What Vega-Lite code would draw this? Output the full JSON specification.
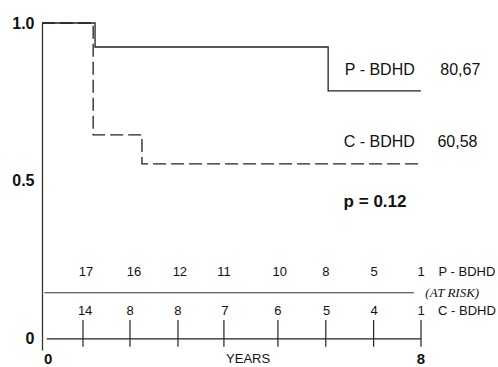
{
  "$schema": "https://vega.github.io/schema/vega-lite/v6.json",
  "width": 379,
  "height": 327,
  "autosize": {"type": "none"},
  "padding": {"left": 42, "top": 23, "right": 77, "bottom": 17},
  "background": "white",
  "config": {
    "view": {"stroke": null},
    "axis": {"grid": false},
    "text": {"font": "Liberation Sans", "color": "#111"}
  },
  "datasets": {
    "curves": [
      {"group": "P", "t": 0, "s": 1.0},
      {"group": "P", "t": 1.12, "s": 0.924},
      {"group": "P", "t": 6.04, "s": 0.785},
      {"group": "P", "t": 8.0, "s": 0.785},
      {"group": "C", "t": 0, "s": 1.0},
      {"group": "C", "t": 1.08, "s": 0.646},
      {"group": "C", "t": 2.11, "s": 0.554},
      {"group": "C", "t": 8.0, "s": 0.554}
    ],
    "ticks": [
      {"t": 0.865}, {"t": 1.857}, {"t": 2.87}, {"t": 3.84},
      {"t": 4.98}, {"t": 5.99}, {"t": 7.0}, {"t": 8.0}
    ],
    "risk": [
      {"group": "P", "t": 0.93, "n": 17},
      {"group": "P", "t": 1.94, "n": 16},
      {"group": "P", "t": 2.91, "n": 12},
      {"group": "P", "t": 3.84, "n": 11},
      {"group": "P", "t": 5.02, "n": 10},
      {"group": "P", "t": 5.99, "n": 8},
      {"group": "P", "t": 7.01, "n": 5},
      {"group": "P", "t": 8.0, "n": 1},
      {"group": "C", "t": 0.91, "n": 14},
      {"group": "C", "t": 1.86, "n": 8},
      {"group": "C", "t": 2.87, "n": 8},
      {"group": "C", "t": 3.86, "n": 7},
      {"group": "C", "t": 4.98, "n": 6},
      {"group": "C", "t": 6.01, "n": 5},
      {"group": "C", "t": 7.01, "n": 4},
      {"group": "C", "t": 8.0, "n": 1}
    ],
    "labels": [
      {"label": "P - BDHD", "t": 7.13, "s": 0.851},
      {"label": "80,67", "t": 8.83, "s": 0.851},
      {"label": "C - BDHD", "t": 7.12, "s": 0.623},
      {"label": "60,58", "t": 8.77, "s": 0.623}
    ],
    "pval": [{"label": "p = 0.12", "t": 7.03, "s": 0.434}],
    "risklabels": [
      {"label": "P - BDHD", "t": 8.97, "s": 0.211},
      {"label": "C - BDHD", "t": 8.97, "s": 0.087}
    ],
    "atrisk": [{"label": "(AT RISK)", "t": 8.66, "s": 0.146}],
    "xlabels": [
      {"label": "0", "t": 0.13, "size": "big"},
      {"label": "YEARS", "t": 4.35, "size": "small"},
      {"label": "8", "t": 8.0, "size": "big"}
    ]
  },
  "layer": [
    {
      "data": {"name": "curves"},
      "transform": [{"filter": "datum.group === 'P'"}],
      "mark": {"type": "line", "interpolate": "step-after", "color": "#222", "strokeWidth": 1.3},
      "encoding": {
        "x": {"field": "t", "type": "quantitative", "scale": {"domain": [0, 8], "nice": false, "zero": false}, "axis": null},
        "y": {
          "field": "s", "type": "quantitative",
          "scale": {"domain": [-0.035, 1], "nice": false, "zero": false},
          "axis": {
            "values": [0, 0.5, 1],
            "labelExpr": "datum.value == 1 ? '1.0' : (datum.value == 0.5 ? '0.5' : '0')",
            "ticks": false,
            "title": null,
            "domainColor": "#333",
            "domainWidth": 1.3,
            "labelFont": "Liberation Sans",
            "labelFontSize": 16,
            "labelFontWeight": "bold",
            "labelColor": "#111",
            "labelPadding": 8
          }
        }
      }
    },
    {
      "data": {"name": "curves"},
      "transform": [{"filter": "datum.group === 'C'"}],
      "mark": {"type": "line", "interpolate": "step-after", "color": "#222", "strokeWidth": 1.3, "strokeDash": [13, 5]},
      "encoding": {
        "x": {"field": "t", "type": "quantitative", "scale": {"domain": [0, 8], "nice": false, "zero": false}, "axis": null},
        "y": {"field": "s", "type": "quantitative", "scale": {"domain": [-0.035, 1], "nice": false, "zero": false}}
      }
    },
    {
      "data": {"name": "ticks"},
      "mark": {"type": "rule", "color": "#222", "strokeWidth": 1.2},
      "encoding": {
        "x": {"field": "t", "type": "quantitative", "scale": {"domain": [0, 8], "nice": false, "zero": false}, "axis": null},
        "y": {"datum": -0.025, "type": "quantitative", "scale": {"domain": [-0.035, 1], "nice": false, "zero": false}},
        "y2": {"datum": 0.06}
      }
    },
    {
      "data": {"values": [{}]},
      "mark": {"type": "rule", "color": "#222", "strokeWidth": 1.2},
      "encoding": {
        "x": {"datum": 0.1, "type": "quantitative", "scale": {"domain": [0, 8], "nice": false, "zero": false}, "axis": null},
        "x2": {"datum": 8.0},
        "y": {"datum": 0, "type": "quantitative", "scale": {"domain": [-0.035, 1], "nice": false, "zero": false}}
      }
    },
    {
      "data": {"values": [{}]},
      "mark": {"type": "rule", "color": "#333", "strokeWidth": 1.1},
      "encoding": {
        "x": {"datum": 0.05, "type": "quantitative", "scale": {"domain": [0, 8], "nice": false, "zero": false}, "axis": null},
        "x2": {"datum": 7.85},
        "y": {"datum": 0.146, "type": "quantitative", "scale": {"domain": [-0.035, 1], "nice": false, "zero": false}}
      }
    },
    {
      "data": {"name": "risk"},
      "transform": [{"filter": "datum.group === 'P'"}],
      "mark": {"type": "text", "fontSize": 13, "baseline": "middle", "align": "center"},
      "encoding": {
        "x": {"field": "t", "type": "quantitative", "scale": {"domain": [0, 8], "nice": false, "zero": false}, "axis": null},
        "y": {"datum": 0.211, "type": "quantitative", "scale": {"domain": [-0.035, 1], "nice": false, "zero": false}},
        "text": {"field": "n", "type": "nominal"}
      }
    },
    {
      "data": {"name": "risk"},
      "transform": [{"filter": "datum.group === 'C'"}],
      "mark": {"type": "text", "fontSize": 13, "baseline": "middle", "align": "center"},
      "encoding": {
        "x": {"field": "t", "type": "quantitative", "scale": {"domain": [0, 8], "nice": false, "zero": false}, "axis": null},
        "y": {"datum": 0.087, "type": "quantitative", "scale": {"domain": [-0.035, 1], "nice": false, "zero": false}},
        "text": {"field": "n", "type": "nominal"}
      }
    },
    {
      "data": {"name": "labels"},
      "mark": {"type": "text", "fontSize": 16, "baseline": "middle", "align": "center"},
      "encoding": {
        "x": {"field": "t", "type": "quantitative", "scale": {"domain": [0, 8], "nice": false, "zero": false}, "axis": null},
        "y": {"field": "s", "type": "quantitative", "scale": {"domain": [-0.035, 1], "nice": false, "zero": false}},
        "text": {"field": "label", "type": "nominal"}
      }
    },
    {
      "data": {"name": "pval"},
      "mark": {"type": "text", "fontSize": 17, "fontWeight": "bold", "baseline": "middle", "align": "center"},
      "encoding": {
        "x": {"field": "t", "type": "quantitative", "scale": {"domain": [0, 8], "nice": false, "zero": false}, "axis": null},
        "y": {"field": "s", "type": "quantitative", "scale": {"domain": [-0.035, 1], "nice": false, "zero": false}},
        "text": {"field": "label", "type": "nominal"}
      }
    },
    {
      "data": {"name": "risklabels"},
      "mark": {"type": "text", "fontSize": 13, "baseline": "middle", "align": "center"},
      "encoding": {
        "x": {"field": "t", "type": "quantitative", "scale": {"domain": [0, 8], "nice": false, "zero": false}, "axis": null},
        "y": {"field": "s", "type": "quantitative", "scale": {"domain": [-0.035, 1], "nice": false, "zero": false}},
        "text": {"field": "label", "type": "nominal"}
      }
    },
    {
      "data": {"name": "atrisk"},
      "mark": {"type": "text", "font": "Liberation Serif", "fontStyle": "italic", "fontSize": 13, "baseline": "middle", "align": "center"},
      "encoding": {
        "x": {"field": "t", "type": "quantitative", "scale": {"domain": [0, 8], "nice": false, "zero": false}, "axis": null},
        "y": {"field": "s", "type": "quantitative", "scale": {"domain": [-0.035, 1], "nice": false, "zero": false}},
        "text": {"field": "label", "type": "nominal"}
      }
    },
    {
      "data": {"name": "xlabels"},
      "transform": [{"filter": "datum.size === 'big'"}],
      "mark": {"type": "text", "fontSize": 15, "fontWeight": "bold", "baseline": "middle", "align": "center"},
      "encoding": {
        "x": {"field": "t", "type": "quantitative", "scale": {"domain": [0, 8], "nice": false, "zero": false}, "axis": null},
        "y": {"datum": -0.063, "type": "quantitative", "scale": {"domain": [-0.035, 1], "nice": false, "zero": false}},
        "text": {"field": "label", "type": "nominal"}
      }
    },
    {
      "data": {"name": "xlabels"},
      "transform": [{"filter": "datum.size === 'small'"}],
      "mark": {"type": "text", "fontSize": 13, "baseline": "middle", "align": "center"},
      "encoding": {
        "x": {"field": "t", "type": "quantitative", "scale": {"domain": [0, 8], "nice": false, "zero": false}, "axis": null},
        "y": {"datum": -0.063, "type": "quantitative", "scale": {"domain": [-0.035, 1], "nice": false, "zero": false}},
        "text": {"field": "label", "type": "nominal"}
      }
    }
  ]
}
